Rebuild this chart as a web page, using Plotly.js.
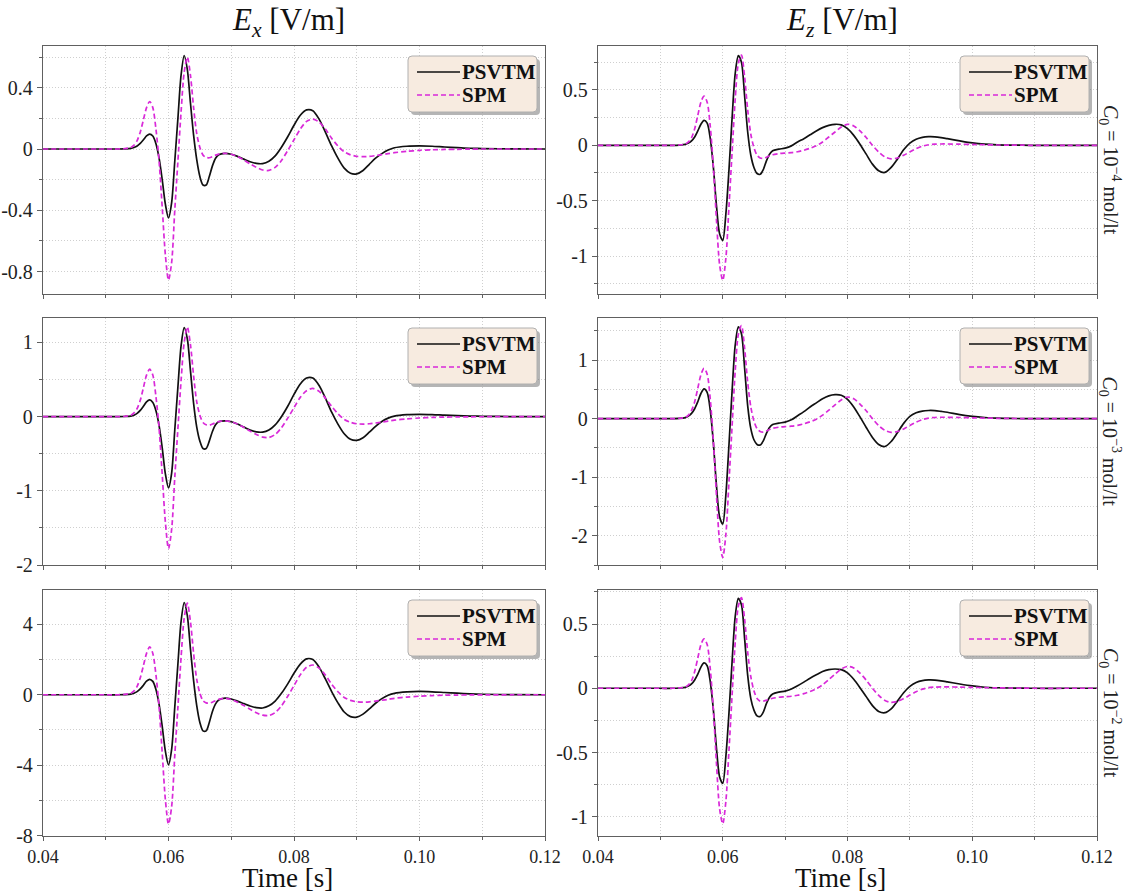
<!DOCTYPE html>
<html>
<head>
<meta charset="utf-8">
<script src="https://cdn.plot.ly/plotly-3.0.1.min.js"></script>
<style>html,body{margin:0;padding:0;background:#fff}#chart{width:1126px;height:894px}</style>
</head>
<body>
<div id="chart"></div>
<script>
// Time samples [s]
const time = [0.040,0.045,0.050,0.052,0.053,0.054,0.0545,0.055,0.0555,0.056,0.0565,0.057,0.0575,0.058,0.0585,0.059,0.0595,0.060,0.0605,0.061,0.0615,0.062,0.0625,0.063,0.0635,0.064,0.0645,0.065,0.0655,0.066,0.0665,0.067,0.0675,0.068,0.069,0.070,0.071,0.072,0.073,0.074,0.075,0.076,0.077,0.078,0.079,0.080,0.081,0.082,0.083,0.084,0.085,0.086,0.087,0.088,0.089,0.090,0.091,0.092,0.093,0.094,0.095,0.096,0.098,0.100,0.102,0.104,0.106,0.108,0.110,0.115,0.120];

// Ex, C0 = 1e-4
const exPSVTM_4 = [0,0,0,0,0.001,0.004,0.01,0.02,0.037,0.06,0.085,0.097,0.085,0.035,-0.06,-0.2,-0.36,-0.45,-0.35,-0.08,0.2,0.48,0.61,0.52,0.3,0.09,-0.07,-0.18,-0.235,-0.235,-0.18,-0.11,-0.06,-0.037,-0.028,-0.034,-0.048,-0.066,-0.083,-0.094,-0.095,-0.08,-0.045,0.012,0.08,0.155,0.22,0.255,0.25,0.195,0.11,0.02,-0.06,-0.125,-0.158,-0.162,-0.14,-0.1,-0.06,-0.03,-0.007,0.008,0.018,0.02,0.018,0.013,0.009,0.005,0.003,0.001,0];
const exSPM_4 = [0,0,0,0,0.002,0.01,0.025,0.055,0.11,0.19,0.27,0.31,0.27,0.13,-0.08,-0.38,-0.69,-0.855,-0.74,-0.4,-0.08,0.24,0.5,0.6,0.48,0.27,0.1,0.01,-0.04,-0.055,-0.057,-0.05,-0.04,-0.033,-0.028,-0.034,-0.05,-0.072,-0.097,-0.12,-0.137,-0.14,-0.12,-0.075,-0.01,0.06,0.13,0.18,0.195,0.175,0.13,0.07,0.02,-0.018,-0.038,-0.048,-0.05,-0.048,-0.043,-0.037,-0.03,-0.024,-0.015,-0.009,-0.005,-0.003,-0.002,-0.001,0,0,0];
// Ex, C0 = 1e-3
const exPSVTM_3 = [0,0,0,0,0.002,0.008,0.02,0.045,0.085,0.14,0.2,0.225,0.19,0.08,-0.12,-0.42,-0.77,-0.96,-0.76,-0.18,0.4,0.95,1.2,1.05,0.62,0.18,-0.14,-0.33,-0.43,-0.43,-0.33,-0.2,-0.11,-0.07,-0.056,-0.068,-0.1,-0.14,-0.18,-0.205,-0.208,-0.18,-0.11,0.0,0.14,0.3,0.44,0.52,0.52,0.42,0.25,0.06,-0.1,-0.23,-0.305,-0.32,-0.285,-0.21,-0.13,-0.065,-0.02,0.008,0.028,0.032,0.028,0.02,0.013,0.008,0.005,0.001,0];
const exSPM_3 = [0,0,0,0,0.004,0.02,0.05,0.11,0.22,0.39,0.56,0.64,0.56,0.27,-0.16,-0.78,-1.42,-1.78,-1.52,-0.82,-0.16,0.48,1.0,1.21,0.97,0.55,0.2,0.02,-0.08,-0.11,-0.115,-0.1,-0.08,-0.066,-0.056,-0.068,-0.1,-0.145,-0.195,-0.24,-0.275,-0.28,-0.24,-0.15,-0.02,0.12,0.26,0.35,0.38,0.34,0.25,0.14,0.04,-0.036,-0.076,-0.096,-0.1,-0.096,-0.086,-0.074,-0.06,-0.048,-0.03,-0.018,-0.01,-0.006,-0.004,-0.002,-0.001,0,0];
// Ex, C0 = 1e-2
const exPSVTM_2 = [0,0,0,0,0.01,0.035,0.09,0.18,0.33,0.54,0.77,0.88,0.76,0.3,-0.55,-1.8,-3.2,-3.98,-3.1,-0.7,1.75,4.15,5.24,4.5,2.6,0.8,-0.62,-1.58,-2.05,-2.05,-1.57,-0.95,-0.52,-0.3,-0.19,-0.24,-0.36,-0.5,-0.64,-0.73,-0.75,-0.63,-0.36,0.08,0.62,1.22,1.74,2.04,2.0,1.57,0.9,0.18,-0.46,-0.98,-1.24,-1.27,-1.1,-0.8,-0.48,-0.22,-0.03,0.08,0.16,0.19,0.17,0.13,0.09,0.055,0.03,0.008,0];
const exSPM_2 = [0,0,0,0,0.02,0.09,0.22,0.48,0.96,1.65,2.35,2.72,2.35,1.13,-0.7,-3.3,-5.95,-7.35,-6.35,-3.45,-0.7,2.1,4.35,5.2,4.15,2.35,0.87,0.09,-0.34,-0.46,-0.48,-0.42,-0.33,-0.26,-0.2,-0.27,-0.42,-0.61,-0.82,-1.02,-1.16,-1.18,-1.01,-0.63,-0.08,0.52,1.13,1.56,1.69,1.51,1.12,0.6,0.17,-0.15,-0.32,-0.4,-0.42,-0.4,-0.36,-0.31,-0.26,-0.2,-0.13,-0.08,-0.045,-0.025,-0.015,-0.008,-0.004,0,0];

// Ez, C0 = 1e-4
const ezPSVTM_4 = [0,0,0,0,0.002,0.008,0.02,0.04,0.075,0.13,0.19,0.225,0.2,0.06,-0.2,-0.55,-0.8,-0.86,-0.62,-0.22,0.25,0.65,0.81,0.75,0.45,0.12,-0.09,-0.2,-0.255,-0.262,-0.22,-0.14,-0.08,-0.05,-0.035,-0.025,-0.005,0.03,0.06,0.095,0.13,0.16,0.18,0.19,0.185,0.15,0.09,0.01,-0.08,-0.17,-0.23,-0.245,-0.2,-0.125,-0.04,0.02,0.055,0.072,0.078,0.077,0.07,0.06,0.04,0.022,0.01,0.004,0.002,0.001,0,0,0];
const ezSPM_4 = [0,0,0,0,0.003,0.012,0.03,0.07,0.15,0.27,0.39,0.445,0.39,0.17,-0.2,-0.68,-1.08,-1.22,-1.02,-0.55,-0.06,0.42,0.74,0.815,0.62,0.32,0.1,-0.02,-0.09,-0.115,-0.118,-0.108,-0.095,-0.085,-0.075,-0.07,-0.066,-0.058,-0.045,-0.027,-0.005,0.03,0.075,0.12,0.165,0.19,0.175,0.13,0.07,0.0,-0.06,-0.105,-0.123,-0.115,-0.09,-0.06,-0.03,-0.008,0.005,0.01,0.012,0.012,0.01,0.008,0.005,0.003,0.002,0.001,0,0,0];
// Ez, C0 = 1e-3
const ezPSVTM_3 = [0,0,0,0,0.004,0.018,0.045,0.09,0.17,0.29,0.43,0.51,0.45,0.14,-0.42,-1.15,-1.68,-1.8,-1.3,-0.44,0.48,1.26,1.57,1.45,0.87,0.22,-0.17,-0.36,-0.44,-0.45,-0.38,-0.25,-0.15,-0.1,-0.076,-0.06,-0.02,0.05,0.12,0.2,0.27,0.34,0.39,0.41,0.4,0.33,0.2,0.03,-0.15,-0.32,-0.44,-0.475,-0.39,-0.24,-0.08,0.04,0.1,0.13,0.14,0.138,0.125,0.11,0.07,0.04,0.02,0.008,0.004,0.002,0.001,0,0];
const ezSPM_3 = [0,0,0,0,0.006,0.024,0.06,0.14,0.29,0.52,0.75,0.86,0.76,0.33,-0.39,-1.32,-2.1,-2.37,-1.98,-1.07,-0.12,0.82,1.44,1.59,1.21,0.62,0.2,-0.04,-0.17,-0.22,-0.23,-0.21,-0.185,-0.165,-0.145,-0.135,-0.128,-0.113,-0.088,-0.053,-0.01,0.06,0.145,0.235,0.32,0.37,0.34,0.25,0.135,0.0,-0.12,-0.2,-0.235,-0.22,-0.175,-0.115,-0.06,-0.015,0.01,0.02,0.024,0.024,0.02,0.015,0.01,0.006,0.004,0.002,0.001,0,0];
// Ez, C0 = 1e-2
const ezPSVTM_2 = [0,0,0,0,0.002,0.007,0.017,0.034,0.065,0.11,0.165,0.197,0.175,0.05,-0.17,-0.47,-0.69,-0.74,-0.53,-0.19,0.21,0.56,0.70,0.65,0.39,0.1,-0.08,-0.17,-0.215,-0.22,-0.185,-0.12,-0.07,-0.045,-0.03,-0.022,-0.005,0.02,0.048,0.078,0.105,0.13,0.145,0.15,0.145,0.12,0.07,0.005,-0.065,-0.135,-0.18,-0.19,-0.16,-0.1,-0.035,0.015,0.045,0.06,0.065,0.064,0.058,0.05,0.033,0.018,0.008,0.004,0.002,0.001,0,0,0];
const ezSPM_2 = [0,0,0,0,0.003,0.01,0.026,0.06,0.13,0.235,0.34,0.384,0.34,0.15,-0.17,-0.59,-0.94,-1.055,-0.88,-0.48,-0.05,0.36,0.64,0.705,0.54,0.28,0.09,-0.02,-0.08,-0.1,-0.1,-0.093,-0.085,-0.078,-0.07,-0.066,-0.062,-0.054,-0.042,-0.025,-0.004,0.027,0.068,0.11,0.15,0.17,0.158,0.118,0.063,0.0,-0.055,-0.095,-0.11,-0.102,-0.08,-0.053,-0.027,-0.007,0.005,0.009,0.011,0.011,0.009,0.007,0.005,0.003,0.002,0.001,0,0,0];

// Tick labels
const xTickVals = [0.04,0.06,0.08,0.10,0.12];
const xTickText = ['0.04','0.06','0.08','0.10','0.12'];
const yTicksEx4 = [0.4,0,-0.4,-0.8];
const yTicksEx3 = [1,0,-1,-2];
const yTicksEx2 = [4,0,-4,-8];
const yTicksEz4 = [0.5,0,-0.5,-1];
const yTicksEz3 = [1,0,-1,-2];
const yTicksEz2 = [0.5,0,-0.5,-1];
const seriesNames = ['PSVTM','SPM'];
const columnTitles = ['<i>E<sub>x</sub></i> [V/m]','<i>E<sub>z</sub></i> [V/m]'];
const rowLabels = ['<i>C</i><sub>0</sub> = 10<sup>−4</sup> mol/lt','<i>C</i><sub>0</sub> = 10<sup>−3</sup> mol/lt','<i>C</i><sub>0</sub> = 10<sup>−2</sup> mol/lt'];
const xTitle = 'Time [s]';

// ---- layout geometry (pixels) ----
const W = 1126, H = 894;
const colPx = [[43,545],[598,1097]];
const rowPx = [[46,294],[318,565],[590,836]];
const px2x = p => p / W;
const py2y = p => 1 - p / H;

const panels = [
  {col:0,row:0,p:exPSVTM_4,s:exSPM_4,ticks:yTicksEx4,minor:0.2,range:[-0.946,0.672]},
  {col:1,row:0,p:ezPSVTM_4,s:ezSPM_4,ticks:yTicksEz4,minor:0.25,range:[-1.343,0.897]},
  {col:0,row:1,p:exPSVTM_3,s:exSPM_3,ticks:yTicksEx3,minor:0.5,range:[-2.0,1.33]},
  {col:1,row:1,p:ezPSVTM_3,s:ezSPM_3,ticks:yTicksEz3,minor:0.5,range:[-2.5,1.72]},
  {col:0,row:2,p:exPSVTM_2,s:exSPM_2,ticks:yTicksEx2,minor:2,range:[-8.02,5.95]},
  {col:1,row:2,p:ezPSVTM_2,s:ezSPM_2,ticks:yTicksEz2,minor:0.25,range:[-1.15,0.765]}
];

const FONT = "'Liberation Serif', 'DejaVu Serif', serif";
const GRID = '#cfcfcf';
const AXC = '#606060';
const BLACK = '#111111';
const MAGENTA = '#d92ad9';
const SPM_DASH = '5px,3px';

const traces = [];
const layout = {
  width: W, height: H,
  margin: {l:0,r:0,t:0,b:0},
  paper_bgcolor: '#ffffff',
  plot_bgcolor: '#ffffff',
  font: {family: FONT, size: 20, color: '#222'},
  showlegend: false,
  annotations: [],
  shapes: []
};

function roundRect(x0, y0, x1, y1, r) {
  const X = px2x, Y = py2y;
  return 'M' + X(x0 + r) + ',' + Y(y0) +
    ' L' + X(x1 - r) + ',' + Y(y0) + ' Q' + X(x1) + ',' + Y(y0) + ' ' + X(x1) + ',' + Y(y0 + r) +
    ' L' + X(x1) + ',' + Y(y1 - r) + ' Q' + X(x1) + ',' + Y(y1) + ' ' + X(x1 - r) + ',' + Y(y1) +
    ' L' + X(x0 + r) + ',' + Y(y1) + ' Q' + X(x0) + ',' + Y(y1) + ' ' + X(x0) + ',' + Y(y1 - r) +
    ' L' + X(x0) + ',' + Y(y0 + r) + ' Q' + X(x0) + ',' + Y(y0) + ' ' + X(x0 + r) + ',' + Y(y0) + ' Z';
}

panels.forEach((pn, i) => {
  const k = i + 1;
  const xa = 'x' + (k === 1 ? '' : k), ya = 'y' + (k === 1 ? '' : k);
  traces.push({
    x: time, y: pn.p, xaxis: xa, yaxis: ya, type: 'scatter', mode: 'lines',
    name: seriesNames[0],
    line: {color: BLACK, width: 1.7, shape: 'spline', smoothing: 0.8}
  });
  traces.push({
    x: time, y: pn.s, xaxis: xa, yaxis: ya, type: 'scatter', mode: 'lines',
    name: seriesNames[1],
    line: {color: MAGENTA, width: 1.7, dash: SPM_DASH, shape: 'spline', smoothing: 0.8}
  });
  const cx = colPx[pn.col], ry = rowPx[pn.row];
  const xName = 'xaxis' + (k === 1 ? '' : k), yName = 'yaxis' + (k === 1 ? '' : k);
  const gridMinor = {ticks: 'outside', ticklen: 3, tickcolor: AXC, showgrid: true, gridcolor: GRID, griddash: '1px,2px', gridwidth: 1};
  layout[xName] = {
    domain: [px2x(cx[0]), px2x(cx[1])], anchor: ya,
    range: [0.04, 0.12], tickvals: xTickVals, ticktext: xTickText,
    showticklabels: pn.row === 2,
    ticks: 'outside', ticklen: 4, tickcolor: AXC, tickwidth: 1,
    showline: true, linecolor: AXC, linewidth: 1.2, mirror: true,
    showgrid: true, gridcolor: GRID, griddash: '1px,2px', gridwidth: 1,
    zeroline: false,
    tickfont: {family: FONT, size: 18, color: '#222'},
    minor: Object.assign({dtick: 0.01, tick0: 0.04}, gridMinor)
  };
  layout[yName] = {
    domain: [py2y(ry[1]), py2y(ry[0])], anchor: xa,
    range: pn.range, tickvals: pn.ticks, ticktext: pn.ticks.map(v => String(v)),
    ticks: 'outside', ticklen: 5, tickcolor: AXC, tickwidth: 1,
    showline: true, linecolor: AXC, linewidth: 1.2, mirror: true,
    showgrid: true, gridcolor: GRID, griddash: '1px,2px', gridwidth: 1,
    zeroline: false,
    tickfont: {family: FONT, size: 20, color: '#222'},
    minor: Object.assign({dtick: pn.minor, tick0: 0}, gridMinor)
  };

  // legend box (drawn in pixel-based paper coordinates)
  const bx0 = cx[1] - 137, bx1 = cx[1] - 8, by0 = ry[0] + 10, by1 = ry[0] + 66;
  layout.shapes.push({type: 'path', xref: 'paper', yref: 'paper', layer: 'above',
    path: roundRect(bx0 + 3, by0 + 3, bx1 + 3, by1 + 3, 4),
    fillcolor: 'rgba(90,90,90,0.45)', line: {width: 0}});
  layout.shapes.push({type: 'path', xref: 'paper', yref: 'paper', layer: 'above',
    path: roundRect(bx0, by0, bx1, by1, 4),
    fillcolor: '#f7ebe0', line: {color: '#b0b0b0', width: 1}});
  const rowsY = [by0 + 16, by0 + 39];
  const styles = [{color: BLACK, width: 1.7}, {color: MAGENTA, width: 1.7, dash: SPM_DASH}];
  [0,1].forEach(j => {
    layout.shapes.push({type: 'line', xref: 'paper', yref: 'paper', layer: 'above',
      x0: px2x(bx0 + 9), x1: px2x(bx0 + 52), y0: py2y(rowsY[j]), y1: py2y(rowsY[j]),
      line: styles[j]});
    layout.annotations.push({xref: 'paper', yref: 'paper', x: px2x(bx0 + 52), y: py2y(rowsY[j]),
      xanchor: 'left', yanchor: 'middle', text: '<b>' + seriesNames[j] + '</b>', showarrow: false,
      font: {family: FONT, size: 21, color: '#111'}});
  });
});

// column titles and x-axis titles
[0,1].forEach(c => {
  const mid = (colPx[c][0] + colPx[c][1]) / 2;
  layout.annotations.push({
    xref: 'paper', yref: 'paper', x: px2x(mid - 6), y: py2y(22), xanchor: 'center', yanchor: 'middle',
    text: columnTitles[c], showarrow: false, font: {family: FONT, size: 31, color: '#111'}
  });
  layout.annotations.push({
    xref: 'paper', yref: 'paper', x: px2x(mid - 7), y: py2y(894), xanchor: 'center', yanchor: 'bottom',
    borderpad: 0, text: xTitle, showarrow: false, font: {family: FONT, size: 27, color: '#111'}
  });
});
// row labels on the right
[0,1,2].forEach(r => {
  const mid = (rowPx[r][0] + rowPx[r][1]) / 2;
  layout.annotations.push({
    xref: 'paper', yref: 'paper', x: px2x(1110), y: py2y(mid), xanchor: 'center', yanchor: 'middle',
    text: rowLabels[r], textangle: 90, showarrow: false, font: {family: FONT, size: 20, color: '#222'}
  });
});

Plotly.newPlot('chart', traces, layout, {staticPlot: true, displayModeBar: false});
</script>
</body>
</html>
